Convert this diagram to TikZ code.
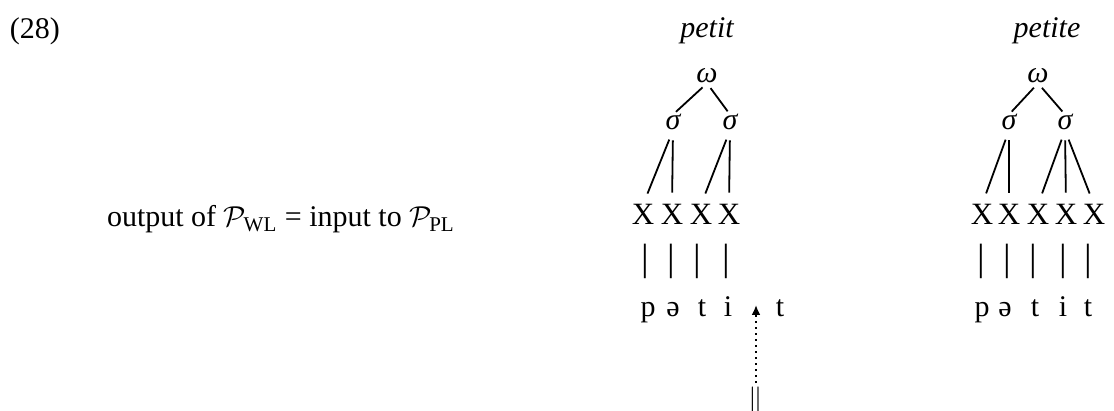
\documentclass[tikz,border=0pt]{standalone}
\usepackage{fontspec}
\setmainfont{Liberation Serif}
\usetikzlibrary{arrows.meta}

\begin{document}
\begin{tikzpicture}[y=0.50pt,x=0.50pt,yscale=-1, inner sep=0pt, outer sep=0pt,
    font=\fontsize{15}{18}\selectfont,
    gloss/.style={anchor=base, font=\fontsize{15}{18}\selectfont\itshape},
    prosod/.style={anchor=base, font=\fontsize{15}{18}\selectfont\itshape},
    skel/.style={anchor=base, font=\fontsize{15.5}{18}\selectfont},
    assoc/.style={anchor=center, font=\fontsize{19}{20}\selectfont},
    segm/.style={anchor=base},
    upper/.style={line width=0.9pt, shorten <=3pt, shorten >=2pt},
    lower/.style={line width=0.9pt, shorten <=5pt, shorten >=6pt}]
  \path[use as bounding box] (0,0) rectangle (1114,411);
  \node[anchor=base west] (num) at (10,39) {(28)};
  \node[anchor=base west] (lvl) at (107,227)
    {output of $\mathcal{P}_{\mathrm{WL}}$ = input to $\mathcal{P}_{\mathrm{PL}}$};

  % petit
  \node[gloss] (g1) at (707,38) {petit};
  \node[prosod] (w1) at (707,83) {ω};
  \node[prosod] (s1a) at (673,130) {σ};
  \node[prosod] (s1b) at (730,130) {σ};
  \node[skel] (x1a) at (643,225) {X};
  \node[skel] (x1b) at (672,225) {X};
  \node[skel] (x1c) at (701,225) {X};
  \node[skel] (x1d) at (729,225) {X};
  \node[assoc] (b1a) at (645,261) {|};
  \node[assoc] (b1b) at (671,261) {|};
  \node[assoc] (b1c) at (697,261) {|};
  \node[assoc] (b1d) at (726,261) {|};
  \node[segm] (p1a) at (648,317) {p};
  \node[segm] (p1b) at (673,317) {ə};
  \node[segm] (p1c) at (702,317) {t};
  \node[segm] (p1d) at (728,317) {i};
  \node[segm] (p1e) at (780,317) {t};
  \draw[upper] (w1.south) -- (s1a.north);
  \draw[upper] (w1.south) -- (s1b.north);
  \draw[lower] (s1a.south) -- (x1a.north);
  \draw[lower] (s1a.south) -- (x1b.north);
  \draw[lower] (s1b.south) -- (x1c.north);
  \draw[lower] (s1b.south) -- (x1d.north);
  \coordinate (gap) at (756,305);
  \node[anchor=north] (brk) at (756,387) {$\|$};
  \draw[dotted, line width=1pt, shorten <=2pt,
    -{Latex[length=5pt,width=4.5pt]}] (brk.north) -- (gap);

  % petite
  \node[gloss] (g2) at (1047,38) {petite};
  \node[prosod] (w2) at (1038,83) {ω};
  \node[prosod] (s2a) at (1009,130) {σ};
  \node[prosod] (s2b) at (1065,130) {σ};
  \node[skel] (x2a) at (982,225) {X};
  \node[skel] (x2b) at (1009,225) {X};
  \node[skel] (x2c) at (1038,225) {X};
  \node[skel] (x2d) at (1066,225) {X};
  \node[skel] (x2e) at (1094,225) {X};
  \node[assoc] (b2a) at (981,261) {|};
  \node[assoc] (b2b) at (1007,261) {|};
  \node[assoc] (b2c) at (1033,261) {|};
  \node[assoc] (b2d) at (1063,261) {|};
  \node[assoc] (b2e) at (1088,261) {|};
  \node[segm] (p2a) at (982,317) {p};
  \node[segm] (p2b) at (1005,317) {ə};
  \node[segm] (p2c) at (1035,317) {t};
  \node[segm] (p2d) at (1063,317) {i};
  \node[segm] (p2e) at (1088,317) {t};
  \draw[upper] (w2.south) -- (s2a.north);
  \draw[upper] (w2.south) -- (s2b.north);
  \draw[lower] (s2a.south) -- (x2a.north);
  \draw[lower] (s2a.south) -- (x2b.north);
  \draw[lower] (s2b.south) -- (x2c.north);
  \draw[lower] (s2b.south) -- (x2d.north);
  \draw[lower] (s2b.south) -- (x2e.north);
\end{tikzpicture}
\end{document}
